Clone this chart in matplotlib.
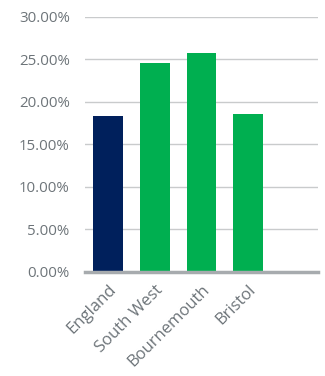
import matplotlib.pyplot as plt
from matplotlib.ticker import PercentFormatter

categories = ["England", "South West", "Bournemouth", "Bristol", ""]
values = [18.35, 24.6, 25.8, 18.6, 0]
bar_colors = ["#00205C", "#00AF50", "#00AF50", "#00AF50", "#00AF50"]

plt.rcParams['font.family'] = ['Open Sans', 'DejaVu Sans']

fig = plt.figure(figsize=(3.25, 3.76), dpi=100)
ax = fig.add_axes([0.2615, 0.2766, 0.7165, 0.6782])

x = range(len(categories))
ax.bar(list(x)[:4], values[:4], width=0.64, color=bar_colors[:4], zorder=3)

ax.set_xlim(-0.5, 4.5)
ax.set_ylim(0, 30)
ax.set_yticks(range(0, 31, 5))
ax.yaxis.set_major_formatter(PercentFormatter(decimals=2))
ax.grid(axis='y', color='#c9cbcc', linewidth=1.0, zorder=0)

ax.set_xticks(list(x)[:4])
ax.set_xticklabels(categories[:4], rotation=45, ha='right', rotation_mode='anchor', fontsize=12)

for s in ['top', 'right', 'left']:
    ax.spines[s].set_visible(False)
ax.spines['bottom'].set_color('#a7abae')
ax.spines['bottom'].set_linewidth(2.5)
ax.spines['bottom'].set_zorder(4)

ax.tick_params(axis='both', length=0, colors='#6d7479')
ax.tick_params(axis='y', pad=11, labelsize=10.8)
ax.tick_params(axis='x', pad=7)

fig.savefig('out.png', dpi=100)
